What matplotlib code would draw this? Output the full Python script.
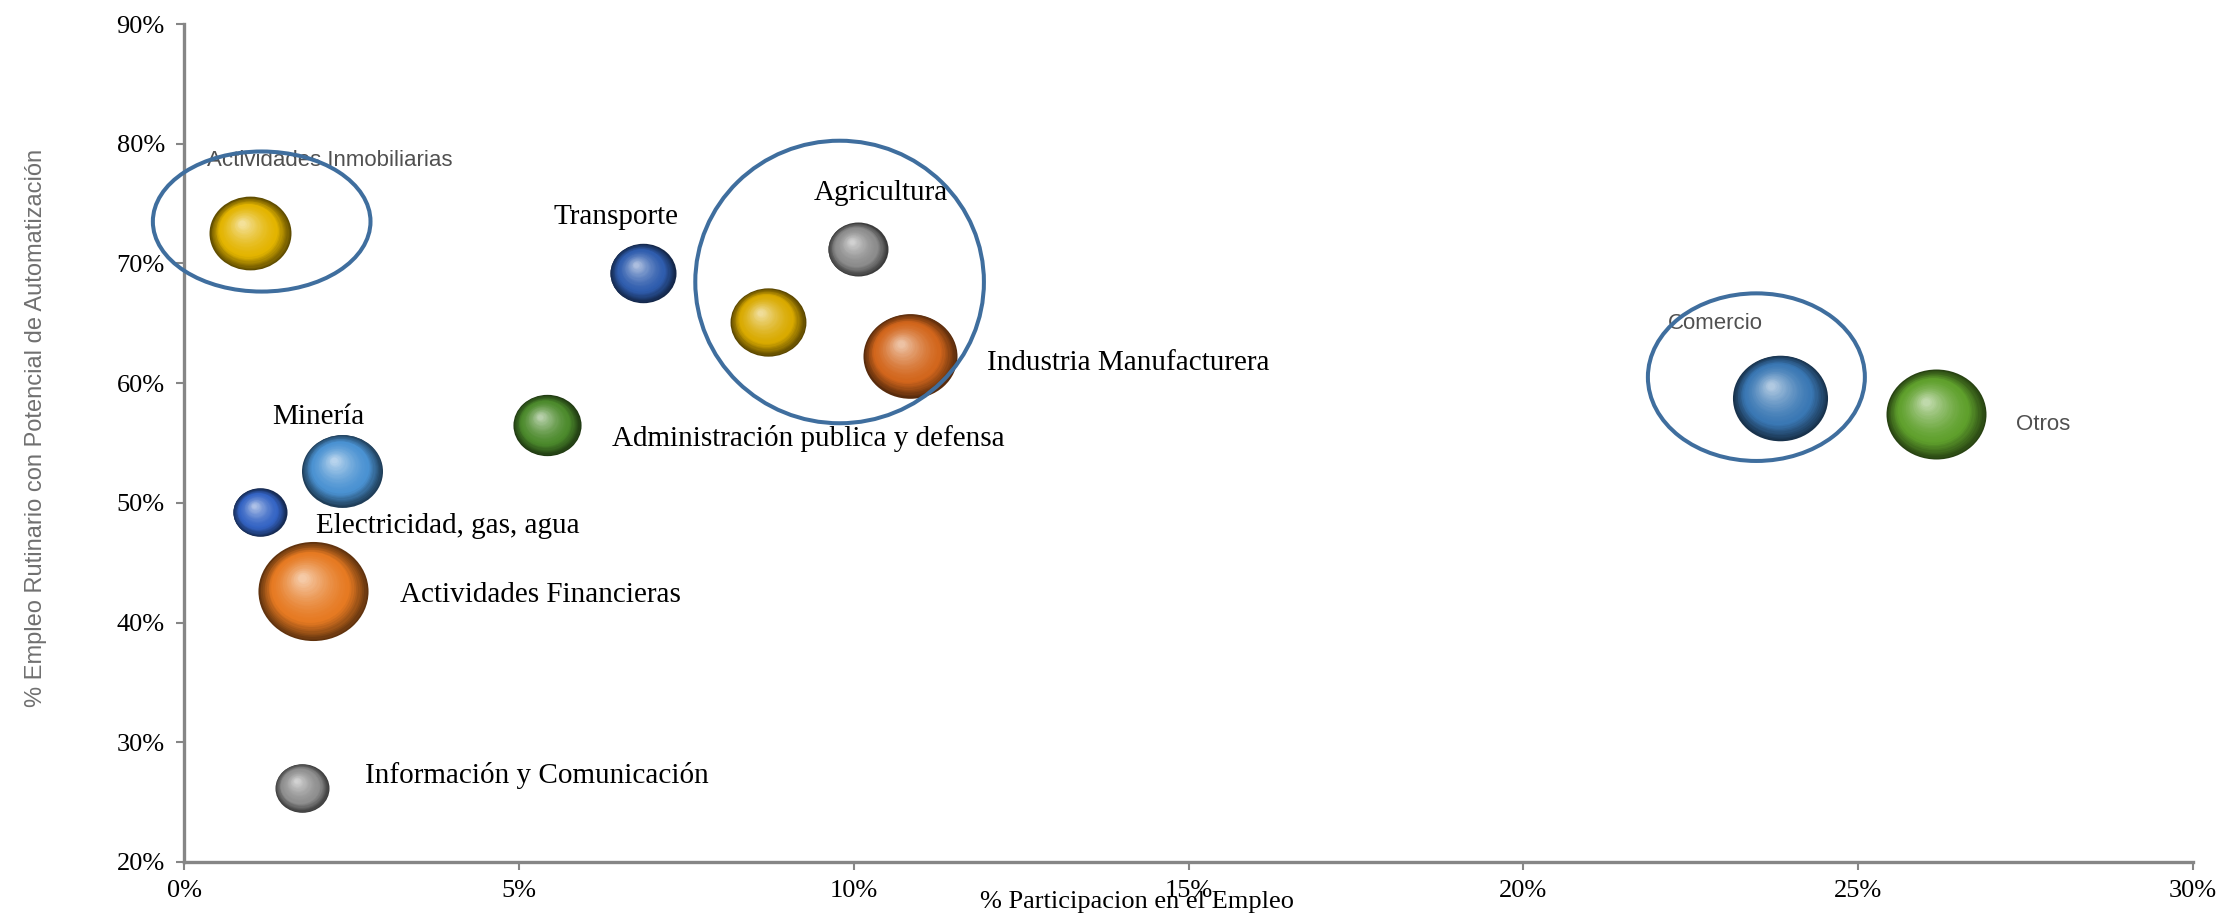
import numpy as np
import matplotlib
matplotlib.use("Agg")
import matplotlib.pyplot as plt
from matplotlib.colors import to_rgb
from matplotlib.patches import Ellipse
from matplotlib.path import Path
from matplotlib.transforms import Affine2D, ScaledTranslation

# data (x = % participacion en el empleo, y = % empleo rutinario)
sectores = [
    "Actividades Inmobiliarias", "Transporte", "Agricultura", "",
    "Industria Manufacturera", "Comercio", "Otros",
    "Administración publica y defensa", "Minería", "Electricidad, gas, agua",
    "Actividades Financieras", "Información y Comunicación",
]
participacion = [0.99, 6.85, 10.06, 8.72, 10.84, 23.84, 26.16, 5.42, 2.36, 1.13, 1.93, 1.76]
rutinario = [72.5, 69.2, 71.2, 65.1, 62.3, 58.8, 57.4, 56.5, 52.7, 49.2, 42.6, 26.2]
tamano = [16.8, 10.9, 9.0, 14.4, 22.1, 22.6, 25.0, 11.6, 16.4, 7.3, 30.3, 7.3]

x_ticks = [0, 5, 10, 15, 20, 25, 30]
y_ticks = [20, 30, 40, 50, 60, 70, 80, 90]

COLORS = ["#E3B400", "#2F5DAE", "#8C8C8C", "#D9AA00", "#D2661C", "#3A78B4",
          "#5FA02C", "#4C8A2C", "#4A92D2", "#3464C4", "#E67A22", "#8F8F8F"]

# label placement: offset in points from bubble centre, alignment, style
LABELS = {
    "Actividades Inmobiliarias": (-31, 52.6, "left", "sans"),
    "Transporte": (-19.4, 40.3, "center", "serif"),
    "Agricultura": (16.6, 40.3, "center", "serif"),
    "Industria Manufacturera": (55.4, -5, "left", "serif"),
    "Comercio": (-81.4, 53.3, "left", "sans"),
    "Otros": (57.6, -7.2, "left", "sans"),
    "Administración publica y defensa": (46.8, -9.4, "left", "serif"),
    "Minería": (-17.3, 38.9, "center", "serif"),
    "Electricidad, gas, agua": (40.3, -10.1, "left", "serif"),
    "Actividades Financieras": (62.6, -2.9, "left", "serif"),
    "Información y Comunicación": (45.4, 8.6, "left", "serif"),
}

# hand-drawn highlight rings (centre x, centre y, width, height) in data units
HIGHLIGHTS = [(1.16, 73.5, 3.25, 11.7), (9.79, 68.45, 4.31, 23.6), (23.48, 60.5, 3.24, 14.0)]
RING = "#3F6E9E"
AXIS = "#868686"
SERIF = "Liberation Serif"
SANS = "Liberation Sans"

ELL = Path.unit_circle().transformed(Affine2D().scale(1.0, 0.9))

fig = plt.figure(figsize=(22.28, 9.15), dpi=100)
ax = fig.add_axes([184 / 2228, 53 / 915, 2009 / 2228, 838 / 915])


def sphere(x, y, w, color, n=30):
    base = np.array(to_rgb(color))
    dark = base * 0.42
    light = base + (1 - base) * 0.6
    for i in range(n):
        t = i / (n - 1)
        if t < 0.3:
            c = dark + (base - dark) * (t / 0.3)
        else:
            c = base + (light - base) * ((t - 0.3) / 0.7) ** 1.5
        f = 1 - 0.92 * t
        off = ScaledTranslation(-0.2 * w / 2 * t / 72, 0.25 * w / 2 * t / 72, fig.dpi_scale_trans)
        ax.scatter([x], [y], s=(w * f) ** 2, marker=ELL, color=c, linewidths=0,
                   transform=ax.transData + off, zorder=3)


for name, x, y, size, col in zip(sectores, participacion, rutinario, tamano, COLORS):
    rx_px = 10 * np.sqrt(size)
    sphere(x, y, 2 * rx_px * 72 / 100, col)
    if name in LABELS:
        dx, dy, ha, style = LABELS[name]
        if style == "sans":
            kw = dict(family=SANS, fontsize=16, color="#505050")
        else:
            kw = dict(family=SERIF, fontsize=21, color="black")
        ax.annotate(name, (x, y), xytext=(dx, dy), textcoords="offset points",
                    ha=ha, va="center", zorder=5, **kw)

for cx, cy, w, h in HIGHLIGHTS:
    ax.add_patch(Ellipse((cx, cy), w, h, fill=False, edgecolor=RING, linewidth=2.9,
                         zorder=10, clip_on=False))

ax.set_xlim(0, 30)
ax.set_ylim(20, 90)
ax.set_xticks(x_ticks)
ax.set_yticks(y_ticks)
ax.set_xticklabels([f"{v}%" for v in x_ticks], family=SERIF, fontsize=19)
ax.set_yticklabels([f"{v}%" for v in y_ticks], family=SERIF, fontsize=19)
ax.tick_params(axis="both", direction="out", length=5.8, width=1.5, color=AXIS)
ax.tick_params(axis="x", pad=7)
ax.tick_params(axis="y", pad=8)
for side in ["top", "right"]:
    ax.spines[side].set_visible(False)
for side in ["left", "bottom"]:
    ax.spines[side].set_color(AXIS)
    ax.spines[side].set_linewidth(2.4)

fig.text(36 / 2228, 1 - 428 / 915, "% Empleo Rutinario con Potencial de Automatización",
         rotation=90, ha="center", va="center", family=SANS, fontsize=17, color="#707070")
fig.text(1137 / 2228, 2 / 915, "% Participacion en el Empleo",
         ha="center", va="bottom", family=SERIF, fontsize=19, color="black")

fig.savefig("out.png", dpi=100, facecolor="white")
